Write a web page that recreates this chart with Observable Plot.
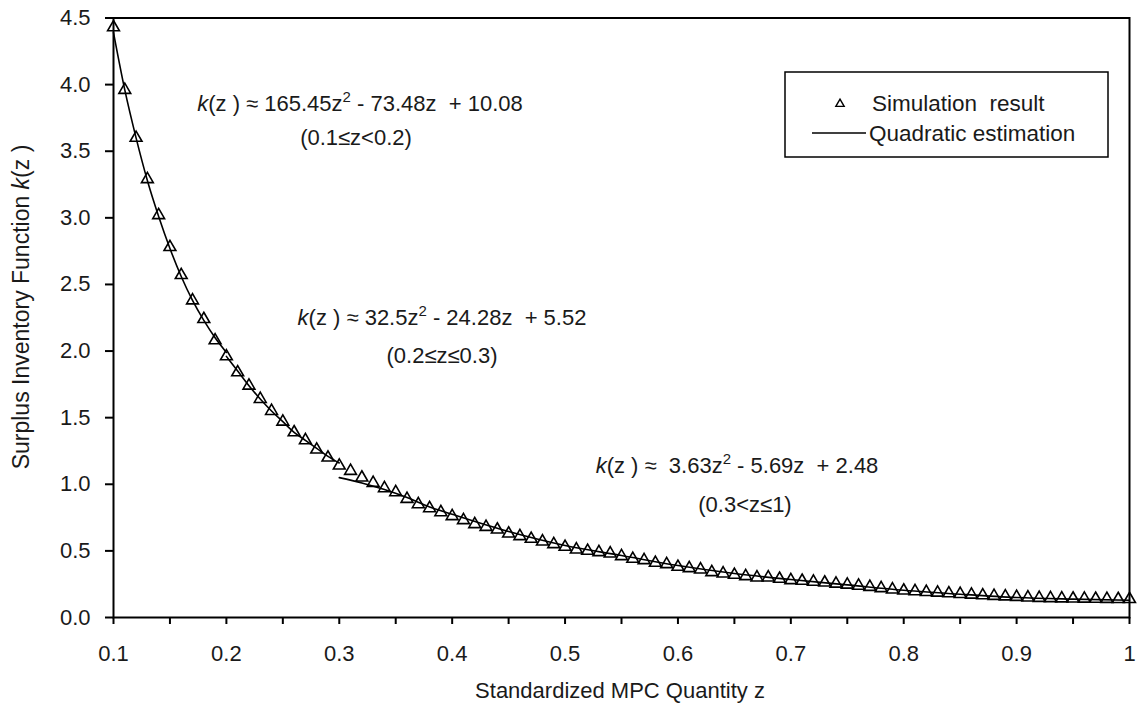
<!DOCTYPE html>
<html>
<head>
<meta charset="utf-8">
<script src="https://cdn.jsdelivr.net/npm/d3@7"></script>
<script src="https://cdn.jsdelivr.net/npm/@observablehq/plot@0.6"></script>
<style>
  html, body { margin: 0; padding: 0; background: #fff; }
  svg text { white-space: pre; }
</style>
</head>
<body>
<div id="chart"></div>
<script>
// ---- data ----
const simZ = [0.10,0.11,0.12,0.13,0.14,0.15,0.16,0.17,0.18,0.19,
  0.20,0.21,0.22,0.23,0.24,0.25,0.26,0.27,0.28,0.29,
  0.30,0.31,0.32,0.33,0.34,0.35,0.36,0.37,0.38,0.39,
  0.40,0.41,0.42,0.43,0.44,0.45,0.46,0.47,0.48,0.49,
  0.50,0.51,0.52,0.53,0.54,0.55,0.56,0.57,0.58,0.59,
  0.60,0.61,0.62,0.63,0.64,0.65,0.66,0.67,0.68,0.69,
  0.70,0.71,0.72,0.73,0.74,0.75,0.76,0.77,0.78,0.79,
  0.80,0.81,0.82,0.83,0.84,0.85,0.86,0.87,0.88,0.89,
  0.90,0.91,0.92,0.93,0.94,0.95,0.96,0.97,0.98,0.99,1.00];
const simK = [4.43,3.96,3.60,3.29,3.02,2.78,2.57,2.38,2.24,2.08,
  1.96,1.84,1.74,1.64,1.55,1.47,1.39,1.33,1.26,1.20,
  1.14,1.10,1.05,1.01,0.97,0.94,0.89,0.85,0.82,0.79,
  0.76,0.73,0.70,0.68,0.66,0.63,0.61,0.59,0.57,0.55,
  0.53,0.51,0.50,0.49,0.48,0.46,0.44,0.43,0.41,0.40,
  0.38,0.37,0.36,0.34,0.33,0.32,0.31,0.30,0.30,0.29,
  0.28,0.275,0.268,0.262,0.254,0.246,0.238,0.229,0.220,0.210,
  0.202,0.197,0.191,0.186,0.181,0.176,0.171,0.166,0.162,0.158,
  0.154,0.150,0.147,0.145,0.143,0.142,0.141,0.140,0.139,0.138,0.138];

// quadratic estimation, three pieces
const fit1Z = [0.10,0.11,0.12,0.13,0.14,0.15,0.16,0.17,0.18,0.19,0.20];
const fit1K = [4.39,3.96,3.60,3.28,3.01,2.77,2.56,2.38,2.23,2.10,1.99];
const fit2Z = [0.20,0.21,0.22,0.23,0.24,0.25,0.26,0.27,0.28,0.29,0.30];
const fit2K = [1.96,1.85,1.74,1.64,1.55,1.47,1.39,1.33,1.27,1.21,1.16];
const fit3Z = [0.30,0.32,0.34,0.36,0.38,0.40,0.45,0.50,0.55,0.60,0.65,0.70,0.75,0.80,0.85,0.90,0.95,1.00];
const fit3K = [1.05,1.01,0.96,0.90,0.83,0.775,0.645,0.54,0.465,0.39,0.33,0.285,0.245,0.205,0.175,0.15,0.138,0.13];

const xTickValues = [0.1,0.2,0.3,0.4,0.5,0.6,0.7,0.8,0.9,1.0];
const xTickLabels = ["0.1","0.2","0.3","0.4","0.5","0.6","0.7","0.8","0.9","1"];
const xMinorTicks = [0.15,0.25,0.35,0.45,0.55,0.65,0.75,0.85,0.95];
const yTickValues = [0,0.5,1,1.5,2,2.5,3,3.5,4,4.5];
const yTickLabels = ["0.0","0.5","1.0","1.5","2.0","2.5","3.0","3.5","4.0","4.5"];

const legendLabels = ["Simulation  result", "Quadratic estimation"];
const xTitle = "Standardized MPC Quantity z";
const yTitleParts = [["Surplus Inventory Function ", ""], ["k", "i"], ["(z )", ""]];
const equations = [
  [[["k","i"],["(z ) ≈ 165.45z",""],["2","sup"],[" - 73.48z  + 10.08",""]], [["(0.1≤z<0.2)",""]]],
  [[["k","i"],["(z ) ≈ 32.5z",""],["2","sup"],[" - 24.28z  + 5.52",""]], [["(0.2≤z≤0.3)",""]]],
  [[["k","i"],["(z ) ≈  3.63z",""],["2","sup"],[" - 5.69z  + 2.48",""]], [["(0.3<z≤1)",""]]]
];

// ---- tables ----
const sim = simZ.map((z, i) => ({z, k: simK[i]}));
const fit = [
  ...fit1Z.map((z, i) => ({z, k: fit1K[i], seg: 1})),
  ...fit2Z.map((z, i) => ({z, k: fit2K[i], seg: 2})),
  ...fit3Z.map((z, i) => ({z, k: fit3K[i], seg: 3}))
];
const xLab = xTickValues.map((v, i) => ({v, t: xTickLabels[i]}));
const yLab = yTickValues.map((v, i) => ({v, t: yTickLabels[i]}));

const FONT = "'Liberation Sans', Arial, Helvetica, sans-serif";
const INK = "#1a1a1a";

const plot = Plot.plot({
  width: 1137,
  height: 711,
  marginLeft: 113,
  marginRight: 8,
  marginTop: 17.5,
  marginBottom: 94,
  x: {domain: [0.1, 1]},
  y: {domain: [0, 4.5]},
  style: {fontFamily: FONT, fontSize: "22px", color: INK, background: "#fff", overflow: "visible"},
  marks: [
    Plot.line(fit, {x: "z", y: "k", z: "seg", curve: "monotone-x", stroke: "#000", strokeWidth: 1.6}),
    Plot.dot(sim, {x: "z", y: "k", symbol: "triangle", r: 4.4, stroke: "#000", fill: "none", strokeWidth: 1.6}),
    Plot.frame({stroke: "#000", strokeWidth: 2}),
    Plot.axisY(yTickValues, {tickSize: 8, strokeWidth: 2, stroke: "#000", tickFormat: () => "", label: null}),
    Plot.axisX(xTickValues, {tickSize: 7, strokeWidth: 2, stroke: "#000", tickFormat: () => "", label: null}),
    Plot.axisX(xMinorTicks, {tickSize: 7, strokeWidth: 2, stroke: "#000", tickFormat: () => "", label: null}),
    Plot.text(yLab, {y: "v", text: "t", frameAnchor: "left", dx: -23, textAnchor: "end", lineAnchor: "middle", fontSize: 22, fill: INK}),
    Plot.text(xLab, {x: "v", text: "t", frameAnchor: "bottom", dy: 36, textAnchor: "middle", lineAnchor: "middle", fontSize: 22, fill: INK})
  ]
});

document.getElementById("chart").appendChild(plot);
const svg = d3.select(plot);

function richText(parent, x, y, parts, size, anchor) {
  const t = parent.append("text")
    .attr("x", x).attr("y", y)
    .attr("dy", "0.35em")
    .attr("text-anchor", anchor || "middle")
    .attr("fill", INK)
    .style("font-family", FONT)
    .style("font-size", size + "px");
  let prevSup = false;
  parts.forEach(([s, st]) => {
    const ts = t.append("tspan").text(s);
    if (st === "i") ts.style("font-style", "italic");
    if (st === "sup") {
      ts.attr("dy", -9).style("font-size", Math.round(size * 0.68) + "px");
    } else if (prevSup) {
      ts.attr("dy", 9);
    }
    prevSup = st === "sup";
  });
  return t;
}

// equations
const eqPos = [[[360, 103], [356, 137]], [[442, 317], [442, 355]], [[737, 465], [745, 504]]];
equations.forEach((eq, i) => {
  richText(svg, eqPos[i][0][0], eqPos[i][0][1], eq[0], 22);
  richText(svg, eqPos[i][1][0], eqPos[i][1][1], eq[1], 22);
});

// axis titles
richText(svg, 620, 690, [[xTitle, ""]], 22);
const yt = richText(svg, 0, 0, yTitleParts, 23);
yt.attr("transform", "translate(21,307) rotate(-90)");

// legend
const lg = svg.append("g");
lg.append("rect").attr("x", 785).attr("y", 72).attr("width", 323).attr("height", 85)
  .attr("fill", "#fff").attr("stroke", "#000").attr("stroke-width", 1.5);
lg.append("path").attr("d", d3.symbol(d3.symbolTriangle, 30)())
  .attr("transform", "translate(840,104)").attr("fill", "none").attr("stroke", "#000").attr("stroke-width", 1.4);
richText(lg, 872, 103, [[legendLabels[0], ""]], 22.5, "start");
lg.append("line").attr("x1", 812).attr("x2", 866).attr("y1", 133).attr("y2", 133)
  .attr("stroke", "#000").attr("stroke-width", 1.6);
richText(lg, 869, 133, [[legendLabels[1], ""]], 22.5, "start");
</script>
</body>
</html>
